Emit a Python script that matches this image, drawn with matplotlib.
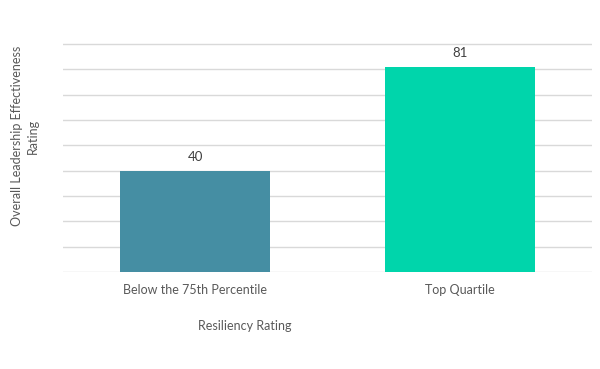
import matplotlib.pyplot as plt
import numpy as np

plt.rcParams['font.family'] = ['Lato', 'DejaVu Sans']

categories = ["Below the 75th Percentile", "Top Quartile"]
values = [40, 81]
colors = ["#458EA3", "#00D5AB"]
grid_ticks = np.arange(0, 91, 10)

fig = plt.figure(figsize=(6, 3.69), dpi=100)
# axes placed in pixel terms of the reference (600x369)
ax = fig.add_axes([63 / 600, 1 - 272 / 369, (592 - 63) / 600, (272 - 42) / 369])

x = np.arange(len(categories))
bars = ax.bar(x, values, width=0.567, color=colors, zorder=3)

for b, v in zip(bars, values):
    ax.text(b.get_x() + b.get_width() / 2, v + 3, str(v),
            ha='center', va='bottom', fontsize=9.5, color='#404040')

ax.set_xlim(-0.5, 1.5)
ax.set_ylim(0, 90 + 2 / 2.52)
ax.set_yticks(grid_ticks)
ax.set_yticklabels([])
ax.tick_params(axis='y', length=0)
ax.grid(axis='y', color='#D9D9D9', linewidth=1, zorder=0)

ax.set_xticks(x)
ax.set_xticklabels(categories, fontsize=9, color='#595959')
ax.tick_params(axis='x', length=0, pad=9)

for s in ax.spines.values():
    s.set_visible(False)

fig.text(245 / 600, 1 - 326 / 369, "Resiliency Rating", ha='center', va='center',
         fontsize=9, color='#595959')
fig.text(25 / 600, 1 - 136 / 369, "Overall Leadership Effectiveness\nRating",
         ha='center', va='center', rotation=90, fontsize=9, color='#595959',
         linespacing=1.35)

fig.savefig("out.png", dpi=100)
